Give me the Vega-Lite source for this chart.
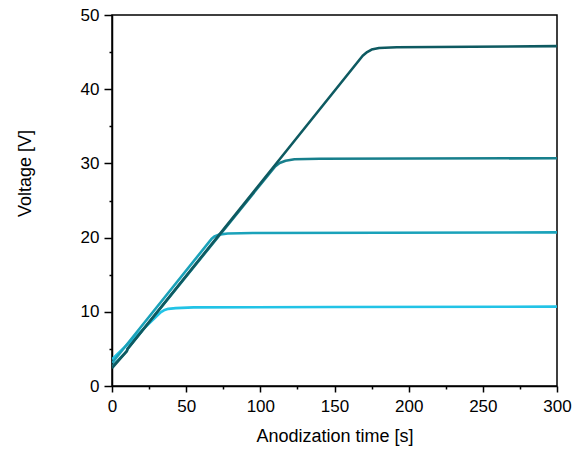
{
  "$schema": "https://vega.github.io/schema/vega-lite/v6.json",
  "width": 445,
  "height": 371,
  "autosize": {"type": "none"},
  "padding": {"left": 112, "top": 15, "right": 16, "bottom": 66},
  "background": "white",
  "config": {
    "font": "Liberation Sans",
    "view": {"stroke": "black", "strokeWidth": 1.5},
    "axis": {
      "grid": false,
      "domainColor": "black",
      "domainWidth": 1.5,
      "tickColor": "black",
      "tickWidth": 1.5,
      "labelColor": "black",
      "labelFontSize": 17,
      "labelFont": "Liberation Sans",
      "titleFont": "Liberation Sans",
      "titleFontSize": 18,
      "titleFontWeight": "normal",
      "titleColor": "black"
    }
  },
  "data": {
    "values": [
      {"series": "10 V", "t": 0, "v": 3.6},
      {"series": "10 V", "t": 33, "v": 9.95},
      {"series": "10 V", "t": 35, "v": 10.2},
      {"series": "10 V", "t": 38, "v": 10.4},
      {"series": "10 V", "t": 43, "v": 10.5},
      {"series": "10 V", "t": 55, "v": 10.6},
      {"series": "10 V", "t": 150, "v": 10.65},
      {"series": "10 V", "t": 300, "v": 10.7},

      {"series": "20 V", "t": 0, "v": 3.1},
      {"series": "20 V", "t": 67, "v": 19.8},
      {"series": "20 V", "t": 69, "v": 20.15},
      {"series": "20 V", "t": 72, "v": 20.4},
      {"series": "20 V", "t": 78, "v": 20.55},
      {"series": "20 V", "t": 95, "v": 20.62},
      {"series": "20 V", "t": 300, "v": 20.7},

      {"series": "30 V", "t": 0, "v": 2.6},
      {"series": "30 V", "t": 10, "v": 4.7},
      {"series": "30 V", "t": 10.5, "v": 5.0},
      {"series": "30 V", "t": 110, "v": 29.6},
      {"series": "30 V", "t": 113, "v": 30.05},
      {"series": "30 V", "t": 117, "v": 30.35},
      {"series": "30 V", "t": 123, "v": 30.55},
      {"series": "30 V", "t": 140, "v": 30.62},
      {"series": "30 V", "t": 300, "v": 30.7},

      {"series": "45 V", "t": 0, "v": 2.4},
      {"series": "45 V", "t": 10, "v": 4.7},
      {"series": "45 V", "t": 10.5, "v": 5.0},
      {"series": "45 V", "t": 169, "v": 44.5},
      {"series": "45 V", "t": 172, "v": 45.0},
      {"series": "45 V", "t": 175, "v": 45.35},
      {"series": "45 V", "t": 180, "v": 45.55},
      {"series": "45 V", "t": 192, "v": 45.65},
      {"series": "45 V", "t": 300, "v": 45.8}
    ]
  },
  "mark": {"type": "line", "strokeWidth": 2.6, "interpolate": "linear", "strokeJoin": "round", "clip": true},
  "encoding": {
    "x": {
      "field": "t",
      "type": "quantitative",
      "scale": {"domain": [0, 300], "nice": false},
      "axis": {
        "title": "Anodization time [s]",
        "values": [0, 25, 50, 75, 100, 125, 150, 175, 200, 225, 250, 275, 300],
        "labelExpr": "datum.value % 50 === 0 ? datum.label : ''",
        "tickSize": {"condition": {"test": "datum.value % 50 === 0", "value": 6}, "value": 3},
        "labelPadding": 6,
        "titlePadding": 13,
        "labelFlush": false
      }
    },
    "y": {
      "field": "v",
      "type": "quantitative",
      "scale": {"domain": [0, 50], "nice": false},
      "axis": {
        "title": "Voltage [V]",
        "values": [0, 5, 10, 15, 20, 25, 30, 35, 40, 45, 50],
        "labelExpr": "datum.value % 10 === 0 ? datum.label : ''",
        "tickSize": {"condition": {"test": "datum.value % 10 === 0", "value": 8}, "value": 3},
        "labelPadding": 5,
        "titleX": -82,
        "titleY": 158,
        "titleBaseline": "alphabetic",
        "labelFlush": false
      }
    },
    "color": {
      "field": "series",
      "type": "nominal",
      "scale": {
        "domain": ["10 V", "20 V", "30 V", "45 V"],
        "range": ["#22c3e6", "#1aa2ba", "#177f8c", "#0e5a61"]
      },
      "legend": null
    },
    "order": {"field": "t", "type": "quantitative"}
  }
}
